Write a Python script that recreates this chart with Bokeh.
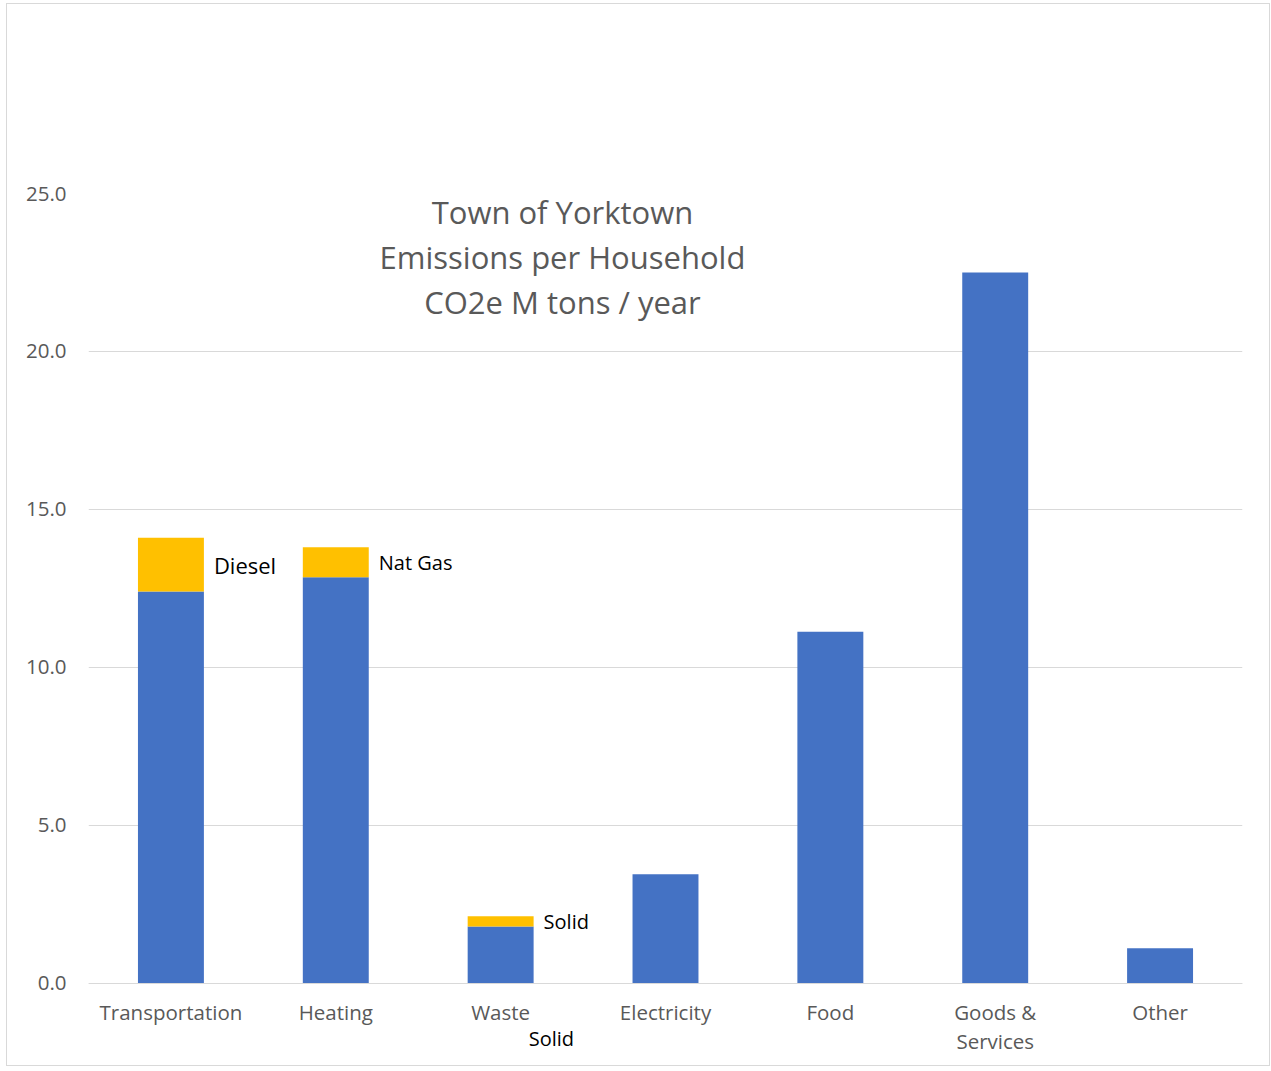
from bokeh.plotting import figure
from bokeh.models import ColumnDataSource, Label, FixedTicker, NumeralTickFormatter, Range1d
from bokeh.embed import file_html
from bokeh.resources import INLINE

categories = ["Transportation", "Heating", "Waste", "Electricity", "Food", "Goods & Services", "Other"]
tick_labels = ["Transportation", "Heating", "Waste", "Electricity", "Food", "Goods &\nServices", "Other"]
base_values = [12.4, 12.85, 1.8, 3.45, 11.13, 22.5, 1.11]
extra_values = [1.7, 0.95, 0.32, 0.0, 0.0, 0.0, 0.0]
extra_labels = ["Diesel", "Nat Gas", "Solid", "", "", "", ""]
title_lines = ["Town of Yorktown", "Emissions per Household", "CO2e M tons / year"]

FONT = "Open Sans"
GRAY = "#595959"
BLUE = "#4472C4"
GOLD = "#FFC000"
BAR_W = 0.4

xs = [i + 0.5 for i in range(len(categories))]
tops = [b + e for b, e in zip(base_values, extra_values)]

p = figure(width=1264, height=1063, output_backend="svg", toolbar_location=None,
           x_range=Range1d(0, len(categories)), y_range=Range1d(-2.35, 25))
p.min_border_left = 81
p.min_border_right = 29
p.min_border_top = 189
p.min_border_bottom = 10
p.outline_line_color = None
p.background_fill_color = "white"
p.border_fill_color = "white"
p.styles = {"border": "1px solid #d9d9d9", "box-sizing": "border-box", "margin-left": "6px", "margin-top": "3px"}

src = ColumnDataSource(dict(x=xs, base=base_values, top=tops, extra=extra_values))
p.vbar(x="x", bottom=0, top="base", width=BAR_W, source=src, fill_color=BLUE, line_color=None)
p.vbar(x="x", bottom="base", top="top", width=BAR_W, source=src, fill_color=GOLD, line_color=None)

# axes
p.xaxis.fixed_location = 0
p.xaxis.ticker = FixedTicker(ticks=xs)
p.xaxis.major_label_overrides = {x: lab for x, lab in zip(xs, tick_labels)}
p.xaxis.axis_line_color = "#d9d9d9"
p.xaxis.major_tick_line_color = None
p.xaxis.minor_tick_line_color = None
p.xaxis.major_label_text_font = FONT
p.xaxis.major_label_text_font_size = "20.5px"
p.xaxis.major_label_text_color = GRAY
p.xaxis.major_label_text_line_height = 1.03
p.xaxis.major_label_standoff = 9

p.yaxis.ticker = FixedTicker(ticks=[0, 5, 10, 15, 20, 25])
p.yaxis.formatter = NumeralTickFormatter(format="0.0")
p.yaxis.axis_line_color = None
p.yaxis.major_tick_line_color = None
p.yaxis.minor_tick_line_color = None
p.yaxis.major_label_text_font = FONT
p.yaxis.major_label_text_font_size = "20.5px"
p.yaxis.major_label_text_color = GRAY
p.yaxis.major_label_standoff = 16

p.xgrid.grid_line_color = None
p.ygrid.grid_line_color = "#d9d9d9"
p.ygrid.grid_line_width = 1

# segment labels (beside the middle of each gold segment)
sizes = ["22px", "20px", "20px"]
for i, lab in enumerate(extra_labels):
    if lab:
        p.add_layout(Label(x=xs[i] + BAR_W / 2, y=base_values[i] + extra_values[i] / 2,
                           text=lab, x_offset=10, text_baseline="middle", text_align="left",
                           text_font=FONT, text_font_size=sizes[i] if i < 3 else "20px",
                           text_color="black"))

# stray "Solid" label below the Waste category
p.add_layout(Label(x=xs[2] + BAR_W / 2 - 0.03, y=-1.74, text=extra_labels[2], text_align="left",
                   text_baseline="middle", text_font=FONT, text_font_size="20px", text_color="black"))

# title
for line, yv in zip(title_lines, [24.43, 23.0, 21.55]):
    p.add_layout(Label(x=2.875, y=yv, text=line, text_align="center", text_baseline="middle",
                       text_font=FONT, text_font_size="31px", text_color=GRAY))

open("out.html", "w").write(file_html(p, INLINE))
